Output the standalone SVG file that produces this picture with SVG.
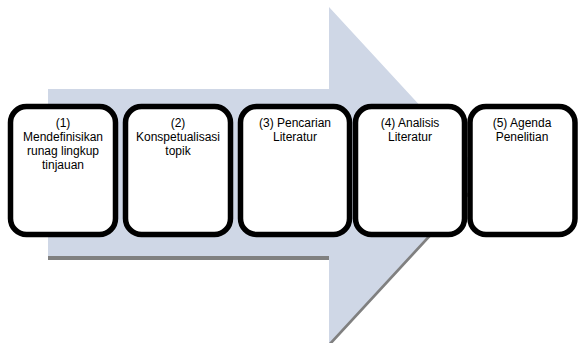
<svg xmlns="http://www.w3.org/2000/svg" width="578" height="343" viewBox="0 0 578 343">
<style>
.box{fill:#fff;stroke:#000;stroke-width:5.5}
.t{font-family:"Liberation Sans",Arial,sans-serif;font-size:12px;fill:#000;text-anchor:middle}
</style>
<rect width="578" height="343" fill="#fff"/>
<g id="arrow">
<polygon points="48,93 329,93 329,11 484,179 329,347 329,260 48,260" fill="#808080"/>
<polygon points="48,89 329,89 329,7 484,175 329,343 329,256 48,256" fill="#CFD7E6"/>
</g>
<g id="node1"><rect class="box" x="10.5" y="106.5" width="105" height="128" rx="16"/>
<text class="t" x="63" y="127">(1)</text><text class="t" x="63" y="141">Mendefinisikan</text><text class="t" x="63" y="155">runag lingkup</text><text class="t" x="63" y="169">tinjauan</text></g>
<g id="node2"><rect class="box" x="125.5" y="106.5" width="105" height="128" rx="16"/>
<text class="t" x="178" y="127">(2)</text><text class="t" x="178" y="141">Konspetualisasi</text><text class="t" x="178" y="155">topik</text></g>
<g id="node3"><rect class="box" x="240.5" y="106.5" width="109" height="128" rx="16"/>
<text class="t" x="295" y="127">(3) Pencarian</text><text class="t" x="295" y="141">Literatur</text></g>
<g id="node4"><rect class="box" x="355.5" y="106.5" width="109" height="128" rx="16"/>
<text class="t" x="410" y="127">(4) Analisis</text><text class="t" x="410" y="141">Literatur</text></g>
<g id="node5"><rect class="box" x="470" y="106.5" width="105" height="128" rx="16"/>
<text class="t" x="522" y="127">(5) Agenda</text><text class="t" x="522" y="141">Penelitian</text></g>
<g id="connectors"></g>
</svg>
